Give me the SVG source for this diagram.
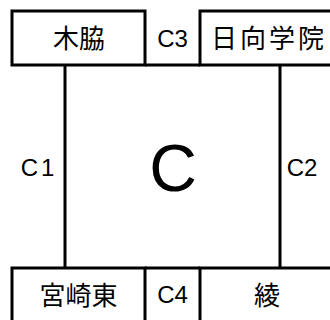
<svg xmlns="http://www.w3.org/2000/svg" width="330" height="320" viewBox="0 0 330 320">
<style>
.box{fill:#fff;stroke:#000;stroke-width:3}
.ln{stroke:#000;stroke-width:3;fill:none}
.jp{font-family:"Liberation Sans","Noto Sans CJK JP",sans-serif;font-size:26px;fill:#000;text-anchor:middle}
.lb{font-family:"Liberation Sans","Noto Sans CJK JP",sans-serif;font-size:24px;fill:#000;text-anchor:middle}
.big{font-family:"Liberation Sans",sans-serif;font-size:66px;fill:#000;text-anchor:middle}
</style>
<rect width="330" height="320" fill="#fff"/>
<g id="connectors">
<line class="ln" x1="65" y1="65" x2="65" y2="268"/>
<line class="ln" x1="280" y1="65" x2="280" y2="268"/>
<line class="ln" x1="145" y1="65" x2="200" y2="65"/>
<line class="ln" x1="145" y1="268" x2="200" y2="268"/>
</g>
<g id="kiwaki">
<rect class="box" x="12" y="11" width="133" height="54"/>
<text class="jp" x="79" y="48">木脇</text>
</g>
<g id="c3">
<text class="lb" x="172.5" y="47">C3</text>
</g>
<g id="hyuga">
<rect class="box" x="200" y="11" width="135" height="54"/>
<text class="jp" x="269" y="48" letter-spacing="3">日向学院</text>
</g>
<g id="c1">
<text class="lb" x="37.5" y="176">C<tspan dx="3">1</tspan></text>
</g>
<g id="center">
<text class="big" x="173" y="191">C</text>
</g>
<g id="c2">
<text class="lb" x="302" y="176">C2</text>
</g>
<g id="miyazakihigashi">
<rect class="box" x="12" y="268" width="133" height="60"/>
<text class="jp" x="78.5" y="305">宮崎東</text>
</g>
<g id="c4">
<text class="lb" x="172.5" y="303">C4</text>
</g>
<g id="aya">
<rect class="box" x="200" y="268" width="135" height="60"/>
<text class="jp" x="267" y="305">綾</text>
</g>
</svg>
